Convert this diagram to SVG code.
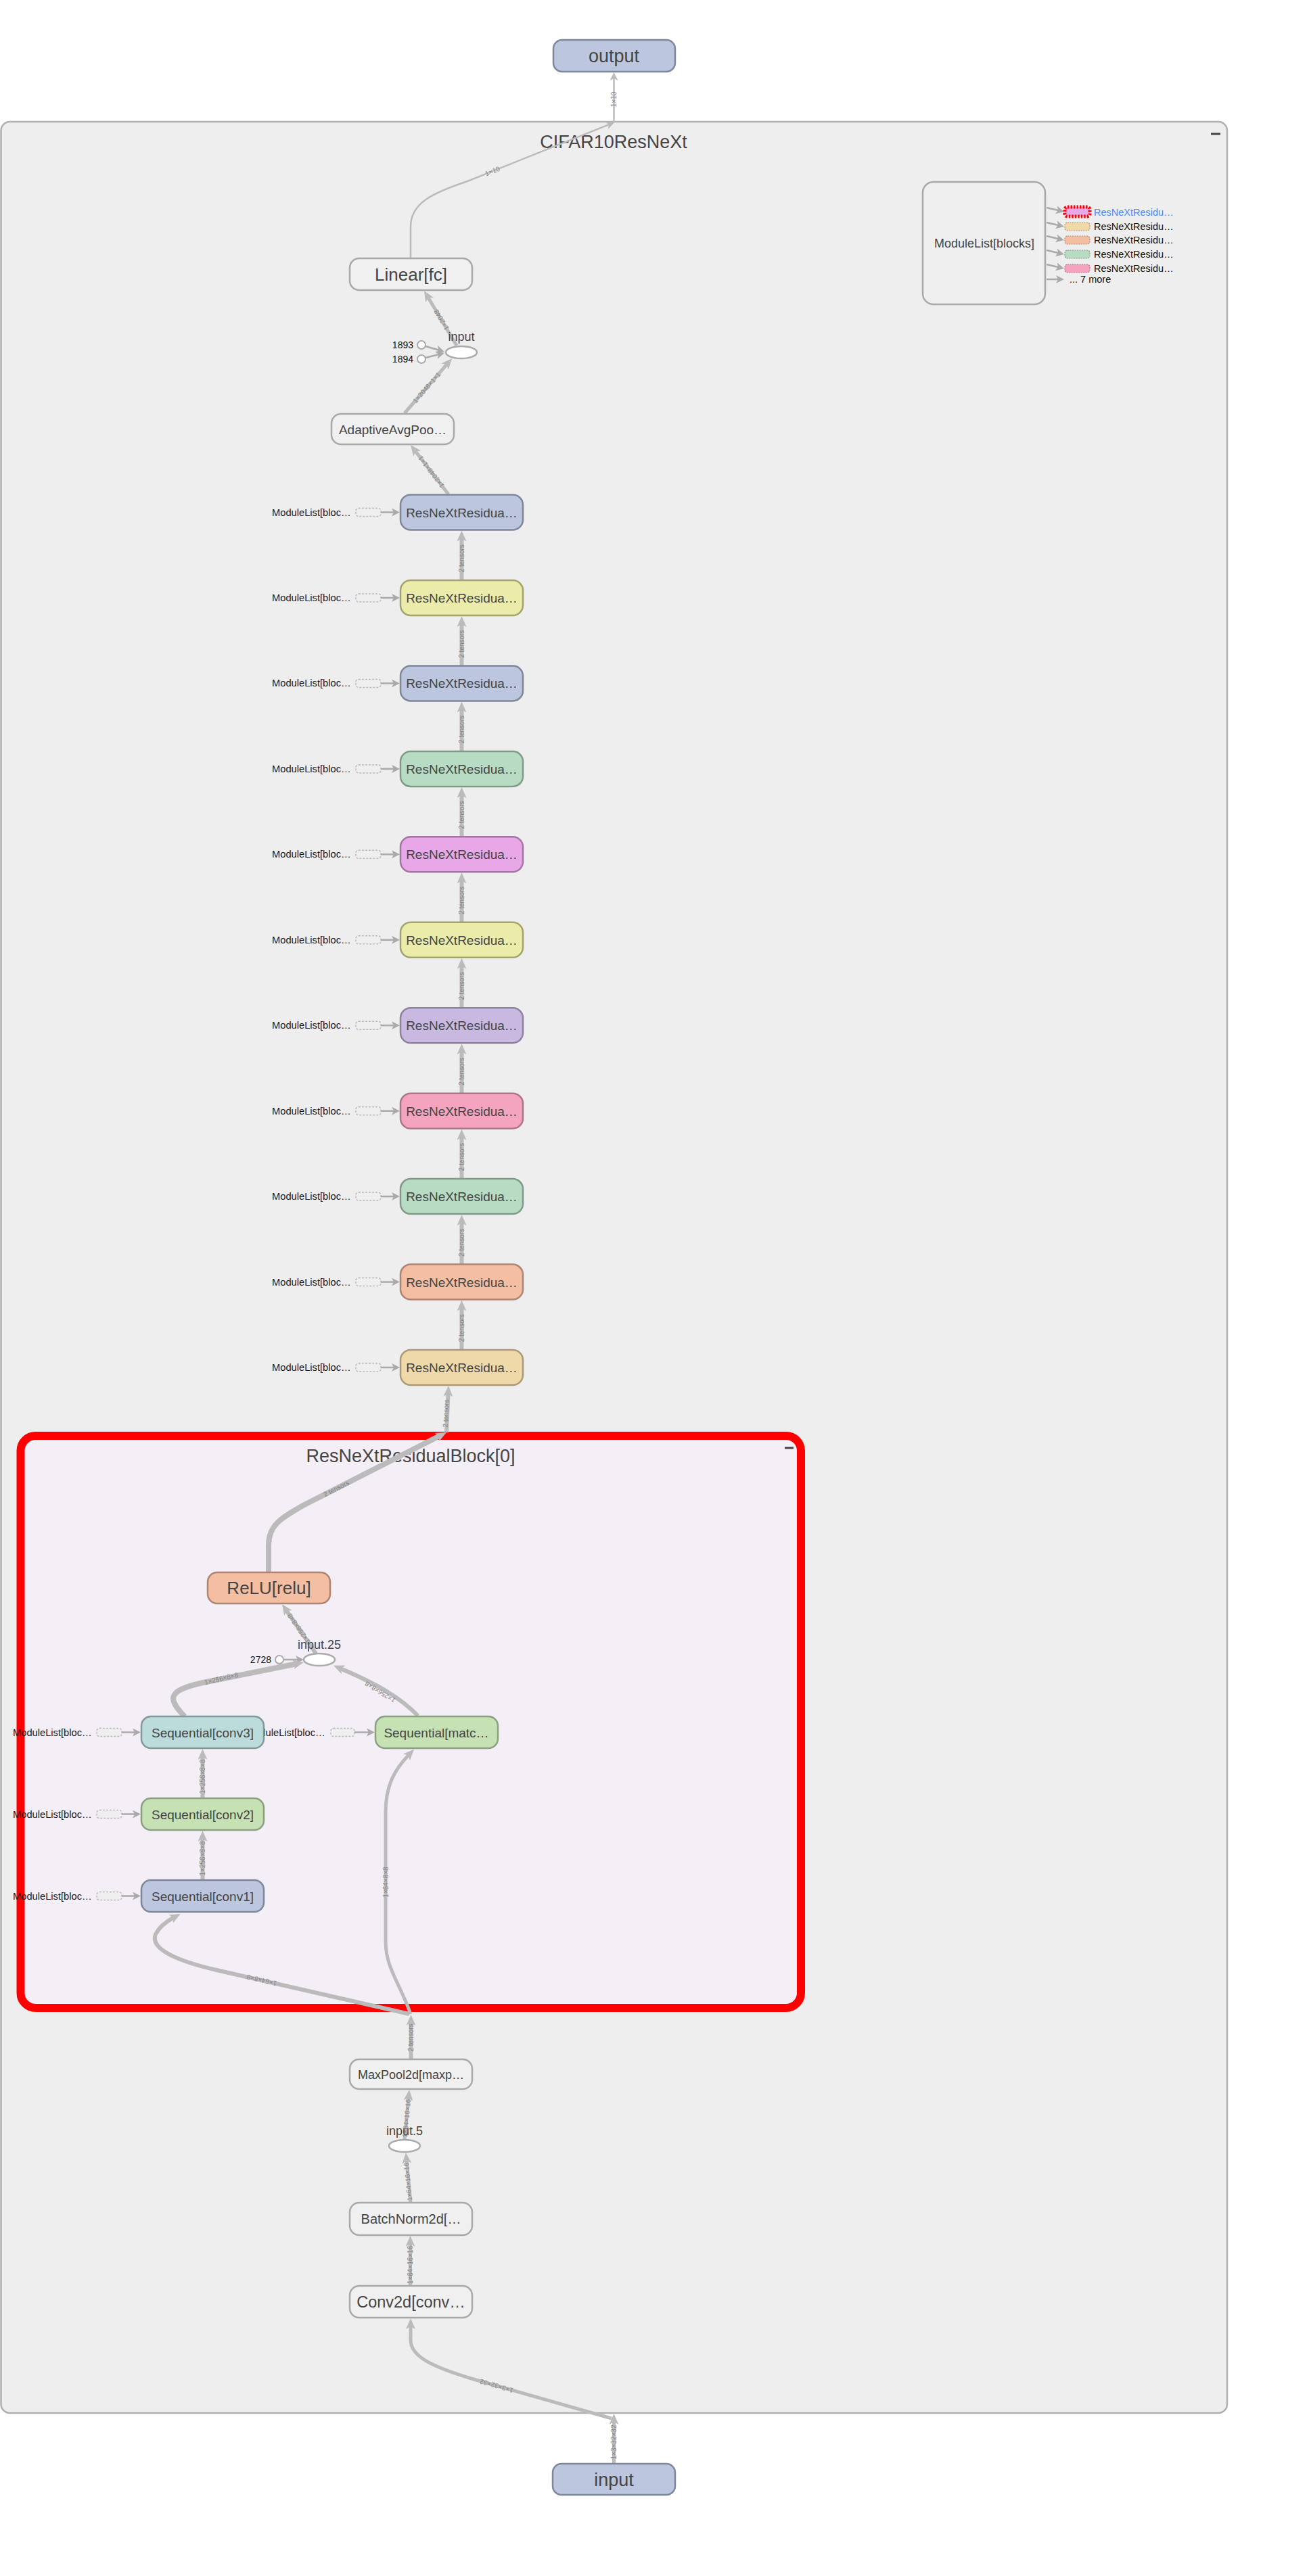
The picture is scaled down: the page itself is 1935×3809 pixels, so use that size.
<svg xmlns="http://www.w3.org/2000/svg" width="1935" height="3809" viewBox="0 0 1935 3809">
<defs>
<marker id="ah" viewBox="0 0 16 14" refX="6" refY="7" markerWidth="16" markerHeight="14" markerUnits="userSpaceOnUse" orient="auto"><path d="M0,0 L16,7 L0,14 L4,7 z" fill="#bbbbbb"/></marker>
<marker id="as" viewBox="0 0 10 10" refX="7" refY="5" markerWidth="12" markerHeight="12" markerUnits="userSpaceOnUse" orient="auto"><path d="M0,0 L10,5 L0,10 L2.5,5 z" fill="#aaaaaa"/></marker>
<marker id="at" viewBox="0 0 10 10" refX="7" refY="5" markerWidth="12" markerHeight="12" markerUnits="userSpaceOnUse" orient="auto"><path d="M0,0 L10,5 L0,10 L2.5,5 z" fill="#bbbbbb"/></marker>
</defs>
<style>
text{font-family:"Liberation Sans",Arial,sans-serif}
.nl{fill:#444;text-anchor:middle}
.gray{fill:#f0f0f0;stroke:#a9a9a9;stroke-width:2.5}
.blue{fill:#bcc6de;stroke:#7f889b;stroke-width:2.5}
.yel{fill:#ebeca9;stroke:#a3a36d;stroke-width:2.5}
.mint{fill:#b8dcc3;stroke:#7f9b87;stroke-width:2.5}
.vio{fill:#e8a8e8;stroke:#a475a4;stroke-width:2.5}
.lav{fill:#c9b9e1;stroke:#8d82a0;stroke-width:2.5}
.pnk{fill:#f4a4bf;stroke:#ae7487;stroke-width:2.5}
.sal{fill:#f4bea3;stroke:#ae8572;stroke-width:2.5}
.wht{fill:#f0d9a9;stroke:#ac9a77;stroke-width:2.5}
.teal{fill:#bcdcdc;stroke:#84999a;stroke-width:2.5}
.lgr{fill:#c6e2b5;stroke:#8c9f80;stroke-width:2.5}
.ell{fill:#fff;stroke:#aaa;stroke-width:2.5}
.e{fill:none;stroke:#bbbbbb;marker-end:url(#ah)}
.el{font-size:10px;fill:#858585;text-anchor:middle}
.ml{font-size:14.7px;fill:#1a1a1a}
.dr{fill:#efefef;stroke:#bbb;stroke-width:1.5;stroke-dasharray:3 2}
.sa{fill:none;stroke:#aaa;stroke-width:2.5;marker-end:url(#as)}
.s19{font-size:19px}
.lbl{font-size:18px;fill:#444;text-anchor:middle}
.num{font-size:14px;fill:#111;text-anchor:end}
</style>

<!-- containers -->
<g id="CIFAR10ResNeXt">
<rect x="1.5" y="180" width="1812.5" height="3388" rx="13" fill="#eeeeee" stroke="#b0b0b0" stroke-width="2.5"/>
<text x="907" y="219" class="nl" font-size="27">CIFAR10ResNeXt</text>
<rect x="1790" y="196.5" width="14" height="3" fill="#444"/>
</g>
<g id="ResNeXtResidualBlock0">
<rect x="30.5" y="2123" width="1153.5" height="846" rx="22" fill="#f4eef6" stroke="#ff0000" stroke-width="12"/>
<text x="607" y="2162" class="nl" font-size="27">ResNeXtResidualBlock[0]</text>
<rect x="1160" y="2139.5" width="13" height="3" fill="#444"/>
</g>

<!-- side ModuleList references (drawn below nodes) -->
<g id="refs">
<text x="402" y="762.5" class="ml">ModuleList[bloc…</text><rect x="526" y="751.5" width="37" height="12" rx="4" class="dr"/><line x1="563" y1="757.5" x2="587.4" y2="757.5" class="sa"/>
<text x="402" y="889" class="ml">ModuleList[bloc…</text><rect x="526" y="878" width="37" height="12" rx="4" class="dr"/><line x1="563" y1="884" x2="587.4" y2="884" class="sa"/>
<text x="402" y="1015.4" class="ml">ModuleList[bloc…</text><rect x="526" y="1004.4" width="37" height="12" rx="4" class="dr"/><line x1="563" y1="1010.4" x2="587.4" y2="1010.4" class="sa"/>
<text x="402" y="1141.9" class="ml">ModuleList[bloc…</text><rect x="526" y="1130.9" width="37" height="12" rx="4" class="dr"/><line x1="563" y1="1136.9" x2="587.4" y2="1136.9" class="sa"/>
<text x="402" y="1268.3" class="ml">ModuleList[bloc…</text><rect x="526" y="1257.3" width="37" height="12" rx="4" class="dr"/><line x1="563" y1="1263.3" x2="587.4" y2="1263.3" class="sa"/>
<text x="402" y="1394.8" class="ml">ModuleList[bloc…</text><rect x="526" y="1383.8" width="37" height="12" rx="4" class="dr"/><line x1="563" y1="1389.8" x2="587.4" y2="1389.8" class="sa"/>
<text x="402" y="1521.2" class="ml">ModuleList[bloc…</text><rect x="526" y="1510.2" width="37" height="12" rx="4" class="dr"/><line x1="563" y1="1516.2" x2="587.4" y2="1516.2" class="sa"/>
<text x="402" y="1647.7" class="ml">ModuleList[bloc…</text><rect x="526" y="1636.7" width="37" height="12" rx="4" class="dr"/><line x1="563" y1="1642.7" x2="587.4" y2="1642.7" class="sa"/>
<text x="402" y="1774.1" class="ml">ModuleList[bloc…</text><rect x="526" y="1763.1" width="37" height="12" rx="4" class="dr"/><line x1="563" y1="1769.1" x2="587.4" y2="1769.1" class="sa"/>
<text x="402" y="1900.6" class="ml">ModuleList[bloc…</text><rect x="526" y="1889.6" width="37" height="12" rx="4" class="dr"/><line x1="563" y1="1895.6" x2="587.4" y2="1895.6" class="sa"/>
<text x="402" y="2027" class="ml">ModuleList[bloc…</text><rect x="526" y="2016" width="37" height="12" rx="4" class="dr"/><line x1="563" y1="2022" x2="587.4" y2="2022" class="sa"/>
<text x="19" y="2566.5" class="ml">ModuleList[bloc…</text><rect x="143" y="2555.5" width="37" height="12" rx="4" class="dr"/><line x1="180" y1="2561.5" x2="204.4" y2="2561.5" class="sa"/>
<text x="19" y="2687.5" class="ml">ModuleList[bloc…</text><rect x="143" y="2676.5" width="37" height="12" rx="4" class="dr"/><line x1="180" y1="2682.5" x2="204.4" y2="2682.5" class="sa"/>
<text x="19" y="2808.5" class="ml">ModuleList[bloc…</text><rect x="143" y="2797.5" width="37" height="12" rx="4" class="dr"/><line x1="180" y1="2803.5" x2="204.4" y2="2803.5" class="sa"/>
<text x="364" y="2566.5" class="ml">ModuleList[bloc…</text><rect x="489" y="2555.5" width="35" height="12" rx="4" class="dr"/><line x1="524" y1="2561.5" x2="550.4" y2="2561.5" class="sa"/>
</g>

<!-- connectors -->
<g id="connectors">
<line x1="907.5" y1="180" x2="907.5" y2="110.6" fill="none" stroke="#bbb" stroke-width="2.5" marker-end="url(#at)"/>
<text class="el" transform="translate(907.5 147) rotate(-90)" y="3.5">1×10</text>
<path d="M607,382 L607,335 C607,300 640,285 691,268 L904.7,182.3" fill="none" stroke="#bbb" stroke-width="2.5" marker-end="url(#at)"/>
<text class="el" transform="translate(728 253) rotate(-21.8)" y="3.5">1×10</text>

<path d="M675,511 L632.1,438.6" class="e" stroke-width="5"/>
<text class="el" transform="translate(652.5 473) rotate(-120.6)" y="3.5">1×2048</text>
<path d="M598,611 L661.5,537.6" class="e" stroke-width="5"/>
<text class="el" transform="translate(630.7 573) rotate(-49.2)" y="3.5">1×2048×1×1</text>
<path d="M663,731 L613.1,665.9" class="e" stroke-width="5"/>
<text class="el" transform="translate(637.4 697.7) rotate(-127.5)" y="3.5">1×2048×1×1</text>

<line x1="629" y1="512" x2="653.5" y2="519" class="sa" stroke-width="2"/>
<line x1="629" y1="529" x2="653.5" y2="522.9" class="sa" stroke-width="2"/>

<path d="M682.5,858 V794.5" class="e" stroke-width="6"/><text class="el" transform="translate(682.5 825.8) rotate(-90)" y="3.5">2 tensors</text>
<path d="M682.5,984.4 V921" class="e" stroke-width="6"/><text class="el" transform="translate(682.5 952.2) rotate(-90)" y="3.5">2 tensors</text>
<path d="M682.5,1110.9 V1047.4" class="e" stroke-width="6"/><text class="el" transform="translate(682.5 1078.6) rotate(-90)" y="3.5">2 tensors</text>
<path d="M682.5,1237.3 V1173.9" class="e" stroke-width="6"/><text class="el" transform="translate(682.5 1205.1) rotate(-90)" y="3.5">2 tensors</text>
<path d="M682.5,1363.8 V1300.3" class="e" stroke-width="6"/><text class="el" transform="translate(682.5 1331.5) rotate(-90)" y="3.5">2 tensors</text>
<path d="M682.5,1490.2 V1426.8" class="e" stroke-width="6"/><text class="el" transform="translate(682.5 1458) rotate(-90)" y="3.5">2 tensors</text>
<path d="M682.5,1616.7 V1553.2" class="e" stroke-width="6"/><text class="el" transform="translate(682.5 1584.5) rotate(-90)" y="3.5">2 tensors</text>
<path d="M682.5,1743.1 V1679.7" class="e" stroke-width="6"/><text class="el" transform="translate(682.5 1710.9) rotate(-90)" y="3.5">2 tensors</text>
<path d="M682.5,1869.6 V1806.1" class="e" stroke-width="6"/><text class="el" transform="translate(682.5 1837.4) rotate(-90)" y="3.5">2 tensors</text>
<path d="M682.5,1996 V1932.6" class="e" stroke-width="6"/><text class="el" transform="translate(682.5 1963.8) rotate(-90)" y="3.5">2 tensors</text>

<path d="M660,2118 L662.6,2059" class="e" stroke-width="6"/>
<text class="el" transform="translate(659 2090) rotate(-87.5)" y="3.5">2 tensors</text>
<path d="M397,2325 V2285 C397,2255 415,2245 450,2225 L651.1,2122.5" class="e" stroke-width="8"/>
<text class="el" transform="translate(497 2201) rotate(-27)" y="3.5">2 tensors</text>

<path d="M467,2445 L422.6,2380.2" class="e" stroke-width="6"/>
<text class="el" transform="translate(441.6 2407.9) rotate(-124.4)" y="3.5">1×256×8×8</text>
<line x1="420" y1="2454" x2="445.4" y2="2454" class="sa" stroke-width="2"/>
<path d="M273,2538 C248,2512 246,2500 300,2488 L439.2,2460" class="e" stroke-width="8"/>
<text class="el" transform="translate(327 2482) rotate(-13)" y="3.5">1×256×8×8</text>
<path d="M618,2537 C592,2511 562,2492 502.3,2466.7" class="e" stroke-width="6"/>
<text class="el" transform="translate(562 2502) rotate(-148)" y="3.5">1×256×8×8</text>

<path d="M299.5,2659 V2596" class="e" stroke-width="6"/>
<text class="el" transform="translate(299.5 2627) rotate(-90)" y="3.5">1×256×8×8</text>
<path d="M299.5,2780 V2717" class="e" stroke-width="6"/>
<text class="el" transform="translate(299.5 2748) rotate(-90)" y="3.5">1×256×8×8</text>

<path d="M605,2978 L320,2913 C255,2898 222,2880 230,2860 C236,2848 246,2841 257.8,2834.7" class="e" stroke-width="6"/>
<text class="el" transform="translate(387 2928) rotate(-167)" y="3.5">1×64×8×8</text>
<path d="M607,2978 C590,2930 570,2910 570,2870 L570,2680 C570,2640 583,2617 605,2594" class="e" stroke-width="5"/>
<text class="el" transform="translate(570 2783) rotate(-90)" y="3.5">1×64×8×8</text>

<path d="M607.5,3045 V2989" class="e" stroke-width="6"/>
<text class="el" transform="translate(607.5 3013) rotate(-90)" y="3.5">2 tensors</text>
<path d="M598,3164 L604.1,3100" class="e" stroke-width="5"/>
<text class="el" transform="translate(601 3132) rotate(-84.6)" y="3.5">1×64×16×16</text>
<path d="M607,3257 L600.9,3193" class="e" stroke-width="5"/>
<text class="el" transform="translate(603 3226) rotate(-95.4)" y="3.5">1×64×16×16</text>
<path d="M606.5,3380 V3316" class="e" stroke-width="5"/>
<text class="el" transform="translate(606.5 3349) rotate(-90)" y="3.5">1×64×16×16</text>
<path d="M904,3576 L700,3518 C640,3500 607,3485 607,3460 L607,3438" class="e" stroke-width="5"/>
<text class="el" transform="translate(734 3528) rotate(-164)" y="3.5">1×3×32×32</text>
<path d="M907.5,3643 V3579" class="e" stroke-width="5"/>
<text class="el" transform="translate(907.5 3611) rotate(-90)" y="3.5">1×3×32×32</text>

<line x1="1547" y1="307" x2="1569.5" y2="312.2" class="sa" stroke-width="2"/>
<line x1="1547" y1="329" x2="1569.5" y2="334.2" class="sa" stroke-width="2"/>
<line x1="1547" y1="349" x2="1569.5" y2="354.2" class="sa" stroke-width="2"/>
<line x1="1547" y1="370" x2="1569.5" y2="375.2" class="sa" stroke-width="2"/>
<line x1="1547" y1="391" x2="1569.5" y2="396.2" class="sa" stroke-width="2"/>
<line x1="1547" y1="413" x2="1569.4" y2="413" class="sa" stroke-width="2"/>
</g>

<!-- nodes -->
<g id="output"><rect x="818" y="59" width="180" height="47" rx="13" class="blue"/><text x="907.5" y="92" class="nl" font-size="27">output</text></g>
<g id="input"><rect x="817" y="3643" width="181" height="46" rx="13" class="blue"/><text x="907.5" y="3675.5" class="nl" font-size="27">input</text></g>

<g id="Linear_fc"><rect x="517" y="382" width="181" height="47" rx="14" class="gray"/><text x="607.5" y="415" class="nl" font-size="26">Linear[fc]</text></g>
<g id="input_node"><ellipse cx="682" cy="521" rx="23" ry="9" class="ell"/><text x="682" y="504" class="lbl">input</text>
<circle cx="623" cy="510" r="6" fill="#fff" stroke="#aaa" stroke-width="2"/><circle cx="623" cy="531" r="6" fill="#fff" stroke="#aaa" stroke-width="2"/>
<text x="611" y="515" class="num">1893</text><text x="611" y="536" class="num">1894</text></g>
<g id="AdaptiveAvgPool"><rect x="490" y="612" width="181" height="45" rx="14" class="gray"/><text x="580.5" y="641.5" class="nl s19">AdaptiveAvgPoo…</text></g>

<g id="ModuleList_blocks">
<rect x="1364" y="269" width="181" height="181" rx="16" fill="#efefef" stroke="#a9a9a9" stroke-width="2.5"/>
<text x="1455" y="366" class="nl" font-size="18">ModuleList[blocks]</text>
<rect x="1574" y="306" width="37" height="14" rx="4" fill="#e9a9e9" stroke="#ff0000" stroke-width="5" stroke-dasharray="2.5 2"/>
<rect x="1574" y="329" width="37" height="12" rx="4" fill="#f0d9a9" stroke="#b09a70" stroke-width="1.2" stroke-dasharray="2 1.5"/>
<rect x="1574" y="349" width="37" height="12" rx="4" fill="#f4bea3" stroke="#b08a75" stroke-width="1.2" stroke-dasharray="2 1.5"/>
<rect x="1574" y="370" width="37" height="12" rx="4" fill="#b8dcc3" stroke="#7f9b87" stroke-width="1.2" stroke-dasharray="2 1.5"/>
<rect x="1574" y="391" width="37" height="12" rx="4" fill="#f4a4bf" stroke="#ae7487" stroke-width="1.2" stroke-dasharray="2 1.5"/>
<text x="1617" y="318.5" font-size="14.5" fill="#4a8af4">ResNeXtResidu…</text>
<text x="1617" y="340" font-size="14.5" fill="#111">ResNeXtResidu…</text>
<text x="1617" y="360" font-size="14.5" fill="#111">ResNeXtResidu…</text>
<text x="1617" y="381" font-size="14.5" fill="#111">ResNeXtResidu…</text>
<text x="1617" y="402" font-size="14.5" fill="#111">ResNeXtResidu…</text>
<text x="1581" y="418" font-size="14.5" fill="#111">... 7 more</text>
</g>

<g id="block10"><rect x="592" y="731.5" width="181" height="52" rx="15" class="blue"/><text x="682.5" y="764.5" class="nl s19">ResNeXtResidua…</text></g>
<g id="block9"><rect x="592" y="858" width="181" height="52" rx="15" class="yel"/><text x="682.5" y="891" class="nl s19">ResNeXtResidua…</text></g>
<g id="block8"><rect x="592" y="984.4" width="181" height="52" rx="15" class="blue"/><text x="682.5" y="1017.4" class="nl s19">ResNeXtResidua…</text></g>
<g id="block7"><rect x="592" y="1110.9" width="181" height="52" rx="15" class="mint"/><text x="682.5" y="1143.9" class="nl s19">ResNeXtResidua…</text></g>
<g id="block6"><rect x="592" y="1237.3" width="181" height="52" rx="15" class="vio"/><text x="682.5" y="1270.3" class="nl s19">ResNeXtResidua…</text></g>
<g id="block5"><rect x="592" y="1363.8" width="181" height="52" rx="15" class="yel"/><text x="682.5" y="1396.8" class="nl s19">ResNeXtResidua…</text></g>
<g id="block4"><rect x="592" y="1490.2" width="181" height="52" rx="15" class="lav"/><text x="682.5" y="1523.2" class="nl s19">ResNeXtResidua…</text></g>
<g id="block3"><rect x="592" y="1616.7" width="181" height="52" rx="15" class="pnk"/><text x="682.5" y="1649.7" class="nl s19">ResNeXtResidua…</text></g>
<g id="block2"><rect x="592" y="1743.1" width="181" height="52" rx="15" class="mint"/><text x="682.5" y="1776.1" class="nl s19">ResNeXtResidua…</text></g>
<g id="block1"><rect x="592" y="1869.6" width="181" height="52" rx="15" class="sal"/><text x="682.5" y="1902.6" class="nl s19">ResNeXtResidua…</text></g>
<g id="block0_out"><rect x="592" y="1996" width="181" height="52" rx="15" class="wht"/><text x="682.5" y="2029" class="nl s19">ResNeXtResidua…</text></g>

<g id="ReLU_relu"><rect x="307" y="2325" width="181" height="46" rx="14" class="sal"/><text x="397.5" y="2357" class="nl" font-size="26">ReLU[relu]</text></g>
<g id="input25"><ellipse cx="472" cy="2454" rx="23" ry="9" class="ell"/><text x="472" y="2437.5" class="lbl">input.25</text>
<circle cx="413" cy="2454" r="6" fill="#fff" stroke="#aaa" stroke-width="2"/><text x="401" y="2459" class="num">2728</text></g>
<g id="Sequential_conv3"><rect x="209" y="2538" width="181" height="47" rx="14" class="teal"/><text x="299.5" y="2568.5" class="nl s19">Sequential[conv3]</text></g>
<g id="Sequential_match"><rect x="555" y="2538" width="181" height="47" rx="14" class="lgr"/><text x="645" y="2568.5" class="nl s19">Sequential[matc…</text></g>
<g id="Sequential_conv2"><rect x="209" y="2659" width="181" height="47" rx="14" class="lgr"/><text x="299.5" y="2689.5" class="nl s19">Sequential[conv2]</text></g>
<g id="Sequential_conv1"><rect x="209" y="2780" width="181" height="47" rx="14" class="blue"/><text x="299.5" y="2810.5" class="nl s19">Sequential[conv1]</text></g>

<g id="MaxPool2d"><rect x="517" y="3045" width="181" height="44" rx="14" class="gray"/><text x="607.5" y="3073.5" class="nl" font-size="18">MaxPool2d[maxp…</text></g>
<g id="input5"><ellipse cx="598" cy="3173" rx="23" ry="9" class="ell"/><text x="598" y="3156.5" class="lbl">input.5</text></g>
<g id="BatchNorm2d"><rect x="517" y="3257" width="181" height="48" rx="14" class="gray"/><text x="607.5" y="3288" class="nl" font-size="20">BatchNorm2d[…</text></g>
<g id="Conv2d"><rect x="517" y="3380" width="181" height="47" rx="14" class="gray"/><text x="607.5" y="3412" class="nl" font-size="23.5">Conv2d[conv…</text></g>
</svg>
